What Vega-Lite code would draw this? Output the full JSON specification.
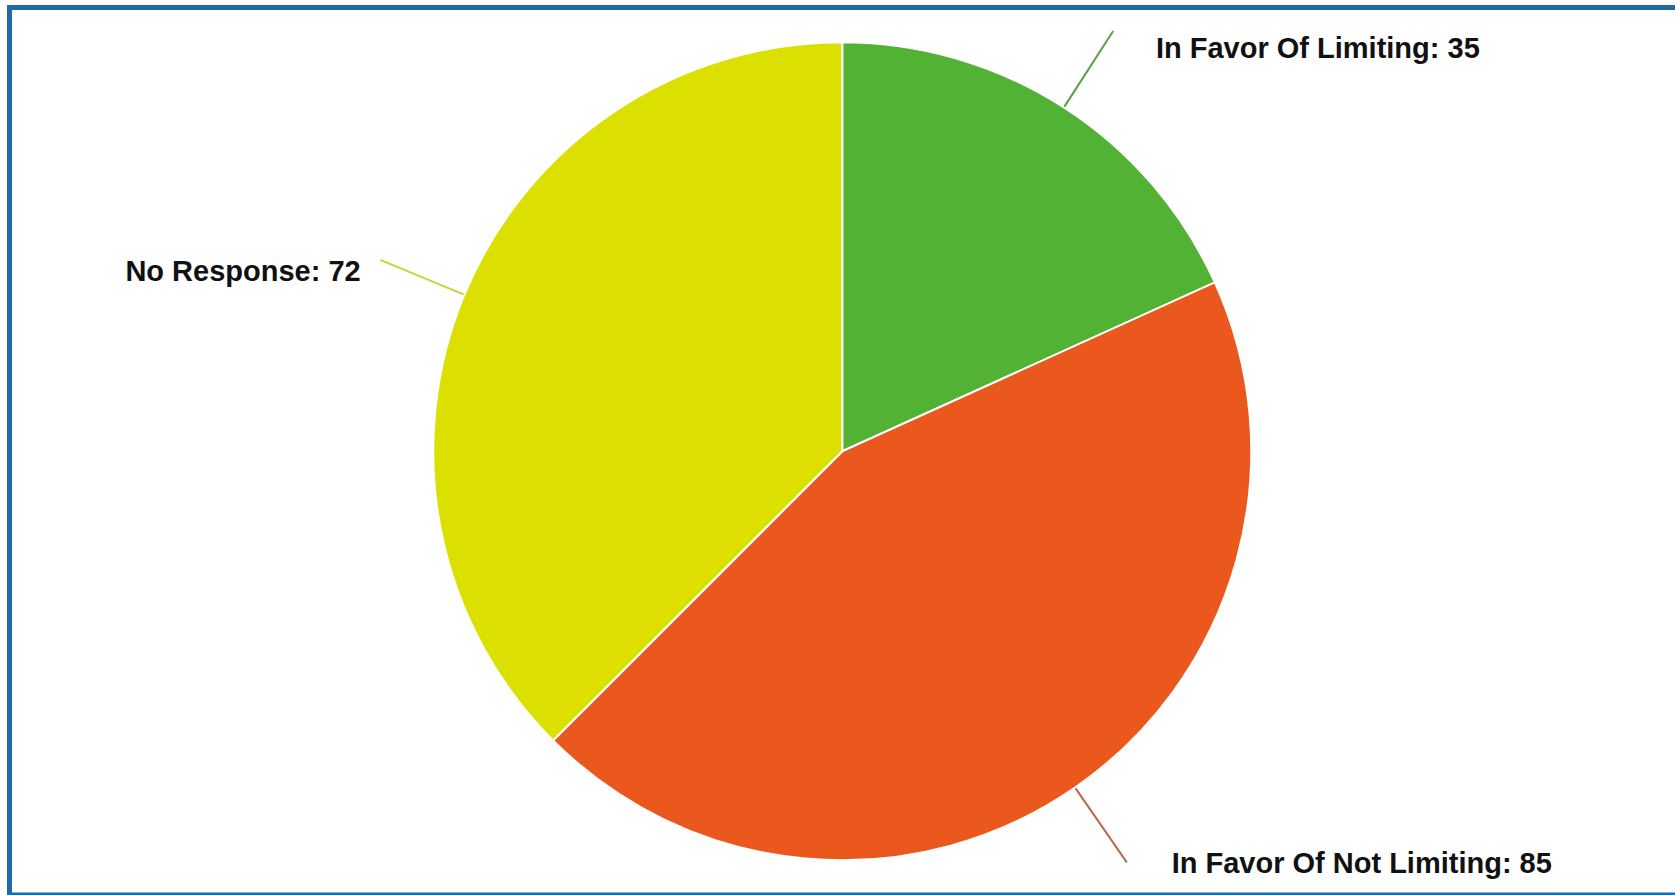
{
  "$schema": "https://vega.github.io/schema/vega-lite/v6.json",
  "width": 1665.5,
  "height": 887.5,
  "autosize": {"type": "none"},
  "padding": {"left": 9.5, "top": 7.5, "right": 0, "bottom": 0},
  "background": "white",
  "config": {"view": {"stroke": null}},
  "data": {
    "values": [
      {"category": "In Favor Of Limiting", "value": 35},
      {"category": "In Favor Of Not Limiting", "value": 85},
      {"category": "No Response", "value": 72}
    ]
  },
  "transform": [{"calculate": "datum.category + ': ' + datum.value", "as": "label"}],
  "layer": [
    {
      "data": {"values": [{"frame": "top"}]},
      "mark": {"type": "rule", "stroke": "#1F6BA8", "strokeWidth": 5, "strokeCap": "square"},
      "encoding": {"x": {"value": 0}, "x2": {"value": "width"}, "y": {"value": 0}}
    },
    {
      "data": {"values": [{"frame": "left"}]},
      "mark": {"type": "rule", "stroke": "#1F6BA8", "strokeWidth": 5, "strokeCap": "square"},
      "encoding": {"x": {"value": 0}, "y": {"value": 0}, "y2": {"value": "height"}}
    },
    {
      "data": {"values": [{"frame": "bottom"}]},
      "mark": {"type": "rule", "stroke": "#1F6BA8", "strokeWidth": 5, "strokeCap": "square"},
      "encoding": {"x": {"value": 0}, "x2": {"value": "width"}, "y": {"value": "height"}}
    },
    {
      "mark": {"type": "arc", "outerRadius": 409, "stroke": "white", "strokeWidth": 2},
      "encoding": {
        "theta": {"field": "value", "type": "quantitative", "stack": true},
        "order": {"field": "category", "type": "ordinal", "sort": "ascending"},
        "color": {
          "field": "category",
          "type": "nominal",
          "scale": {
            "domain": ["In Favor Of Limiting", "In Favor Of Not Limiting", "No Response"],
            "range": ["#52B234", "#EA581E", "#DCE000"]
          },
          "legend": null
        }
      }
    },
    {
      "mark": {"type": "arc", "innerRadius": 410, "outerRadius": 500, "padAngle": 3, "strokeWidth": 2, "fillOpacity": 0},
      "encoding": {
        "theta": {"field": "value", "type": "quantitative", "stack": true},
        "order": {"field": "category", "type": "ordinal", "sort": "ascending"},
        "stroke": {
          "field": "category",
          "type": "nominal",
          "scale": {
            "domain": ["In Favor Of Limiting", "In Favor Of Not Limiting", "No Response"],
            "range": ["#5E9E44", "#B8694A", "#C6D43A"]
          },
          "legend": null
        }
      }
    },
    {
      "mark": {
        "type": "text",
        "radius": 505,
        "font": "Liberation Sans",
        "fontSize": 29,
        "fontWeight": "bold",
        "color": "#111111",
        "baseline": "middle",
        "align": {"expr": "datum.category == 'No Response' ? 'right' : 'left'"},
        "dx": {"expr": "datum.category == 'No Response' ? -15 : (datum.category == 'In Favor Of Limiting' ? 40 : 42)"},
        "dy": {"expr": "datum.category == 'No Response' ? 14 : (datum.category == 'In Favor Of Limiting' ? 22 : -2)"}
      },
      "encoding": {
        "theta": {"field": "value", "type": "quantitative", "stack": true},
        "order": {"field": "category", "type": "ordinal", "sort": "ascending"},
        "detail": {"field": "category", "type": "nominal"},
        "text": {"field": "label", "type": "nominal"}
      }
    }
  ]
}
